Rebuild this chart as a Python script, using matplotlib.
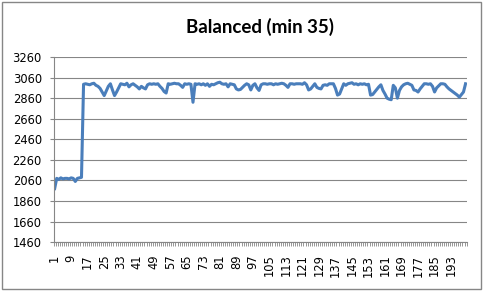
import numpy as np
import matplotlib
matplotlib.use("Agg")
import matplotlib.pyplot as plt
from matplotlib.patches import Rectangle

# values (one per sample, 200 samples)
values = [
    1980, 2080, 2070, 2085, 2075, 2080, 2080, 2075, 2085, 2080,
    2050, 2080, 2085, 2090, 2995, 3000, 2995, 2990, 3000, 3005,
    2985, 2975, 2955, 2920, 2885, 2930, 2975, 3000, 2940, 2885,
    2920, 2960, 3000, 2995, 2990, 3005, 2970, 2990, 3000, 2985,
    2970, 2950, 2975, 2960, 2950, 2990, 3000, 2995, 3000, 2995,
    3000, 2975, 2955, 2925, 2910, 3000, 2995, 3000, 3005, 3000,
    3000, 2985, 2965, 3000, 2995, 3000, 2995, 2820, 3000, 2995,
    3000, 2990, 3000, 2985, 3000, 2975, 2995, 2990, 3000, 3010,
    3015, 3000, 2995, 3000, 2970, 3000, 2995, 2990, 2950, 2940,
    2945, 2965, 2985, 3000, 2990, 2940, 2985, 3000, 2960, 2935,
    2990, 3000, 3000, 2995, 3000, 3000, 2990, 3000, 2995, 3000,
    3005, 3000, 2985, 2965, 3000, 3000, 2995, 3000, 3000, 3000,
    2995, 3010, 2990, 2940, 2950, 2975, 3000, 2965, 2955, 2950,
    2985, 2990, 2985, 3000, 3000, 3000, 2955, 2890, 2900, 2950,
    3000, 2985, 3000, 3005, 3010, 2995, 3000, 2990, 3000, 2995,
    3000, 2990, 2995, 2890, 2895, 2920, 2945, 2970, 2990, 2935,
    2900, 2860, 2850, 2845, 2985, 2960, 2860, 2935, 2970, 2990,
    3000, 3005, 2995, 2985, 2940, 2935, 2920, 2950, 2975, 3000,
    3000, 2995, 3000, 2975, 2920, 2960, 2980, 3000, 3000, 2995,
    2970, 2950, 2935, 2920, 2905, 2890, 2870, 2895, 2920, 3000,
]
samples = list(range(1, len(values) + 1))
y_ticks = list(range(1460, 3261, 200))
x_labels = samples[::8]

title = "Balanced (min 35)"
line_color = "#4A7EBB"
grid_color = "#868686"

fig = plt.figure(figsize=(4.83, 2.91), dpi=100)
ax = fig.add_axes([0.111, 0.168, 0.855, 0.636])

ax.plot(samples, values, color=line_color, linewidth=2.2, solid_joinstyle="round")

ax.set_xlim(0.5, len(values) + 0.5)
ax.set_ylim(1460, 3260)
ax.set_yticks(y_ticks)
ax.set_yticklabels([str(v) for v in y_ticks], fontsize=8.3)
ax.grid(axis="y", color=grid_color, linewidth=0.8)
ax.set_axisbelow(True)

# category labels every 8th sample, tick marks at every category boundary
ax.set_xticks(x_labels)
ax.set_xticklabels([str(v) for v in x_labels], rotation=90, fontsize=8.3)
ax.set_xticks(np.arange(0.5, len(values) + 1, 1), minor=True)
ax.tick_params(axis="x", which="major", length=0, pad=9)
ax.tick_params(axis="x", which="minor", length=3, color=grid_color, width=0.6)
ax.tick_params(axis="y", length=3, color=grid_color, width=0.8, pad=5.5)

for side in ["top", "right"]:
    ax.spines[side].set_visible(False)
for side in ["left", "bottom"]:
    ax.spines[side].set_color(grid_color)
    ax.spines[side].set_linewidth(0.8)

ax.set_title(title, fontsize=13.5, fontweight="bold", family="Lato", pad=17)

# outer chart border
fig.patches.append(Rectangle((0.004, 0.006), 0.992, 0.988, transform=fig.transFigure,
                             fill=False, edgecolor=grid_color, linewidth=1.0))

fig.savefig("out.png", dpi=100)
